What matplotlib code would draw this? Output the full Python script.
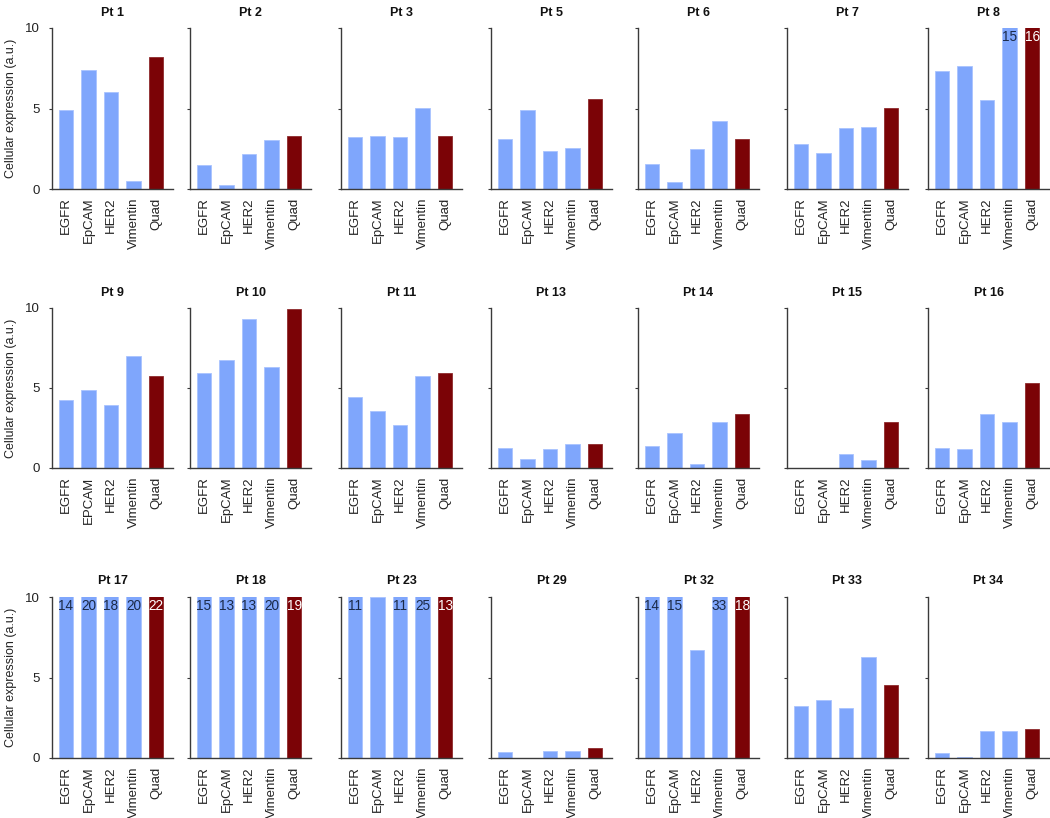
import matplotlib
matplotlib.use("Agg")
import matplotlib.pyplot as plt

plt.rcParams['font.family'] = ['Liberation Sans', 'DejaVu Sans']

patients = ["Pt 1", "Pt 2", "Pt 3", "Pt 5", "Pt 6", "Pt 7", "Pt 8",
            "Pt 9", "Pt 10", "Pt 11", "Pt 13", "Pt 14", "Pt 15", "Pt 16",
            "Pt 17", "Pt 18", "Pt 23", "Pt 29", "Pt 32", "Pt 33", "Pt 34"]

markers_default = ["EGFR", "EpCAM", "HER2", "Vimentin", "Quad"]
markers_pt9 = ["EGFR", "EPCAM", "HER2", "Vimentin", "Quad"]

# values per patient: EGFR, EpCAM, HER2, Vimentin, Quad
egfr     = [4.92, 1.49, 3.24, 3.09, 1.56, 2.82, 7.32,
            4.25, 5.93, 4.46, 1.24, 1.37, 0.0, 1.24,
            14, 15, 11, 0.40, 14, 3.22, 0.33]
epcam    = [7.37, 0.23, 3.30, 4.90, 0.41, 2.22, 7.66,
            4.88, 6.74, 3.59, 0.56, 2.18, 0.0, 1.18,
            20, 13, 10, 0.0, 15, 3.61, 0.04]
her2     = [6.04, 2.16, 3.24, 2.34, 2.49, 3.78, 5.52,
            3.92, 9.34, 2.66, 1.18, 0.25, 0.85, 3.40,
            18, 13, 11, 0.46, 6.70, 3.13, 1.66]
vimentin = [0.48, 3.03, 5.02, 2.55, 4.25, 3.84, 15,
            6.99, 6.33, 5.73, 1.51, 2.86, 0.50, 2.86,
            20, 20, 25, 0.46, 33, 6.29, 1.66]
quad     = [8.17, 3.30, 3.30, 5.58, 3.09, 5.04, 16,
            5.73, 9.95, 5.93, 1.51, 3.40, 2.86, 5.33,
            22, 19, 13, 0.60, 18, 4.54, 1.80]

ylim_max = 10
yticks = [0, 5, 10]
ylabel = "Cellular expression (a.u.)"

blue = "#7fa6fc"
red = "#7b0306"
label_blue = "#1b2a48"
spine_col = "#3a3a3a"

W, H = 1050, 818
fig = plt.figure(figsize=(W / 100, H / 100), dpi=100)

col_left = [52, 190, 341, 491, 638, 787, 928]
ax_w = 121
rows = [(28, 189), (308, 468), (597, 758)]

for i, name in enumerate(patients):
    r, c = divmod(i, 7)
    top, bot = rows[r]
    left = col_left[c]
    ax = fig.add_axes([left / W, 1 - bot / H, ax_w / W, (bot - top) / H])
    vals = [egfr[i], epcam[i], her2[i], vimentin[i], quad[i]]
    cats = markers_pt9 if name == "Pt 9" else markers_default
    colors = [blue] * 4 + [red]
    edges = ["#a9c3ff"] * 4 + ["#8e2a2c"]
    xs = list(range(len(vals)))
    ax.bar(xs, vals, width=0.65, color=colors, edgecolor=edges, linewidth=0.6)
    ax.set_xlim(-0.62, 4.75)
    ax.set_ylim(0, ylim_max)
    for x, v, col in zip(xs, vals, colors):
        if v > ylim_max:
            ax.annotate(f"{v:g}", xy=(x, ylim_max), xytext=(0, -1.5),
                        textcoords="offset points", ha="center", va="top",
                        fontsize=9.8, color="white" if col == red else label_blue)
    ax.set_xticks(xs)
    ax.set_xticklabels(cats, rotation=90, fontsize=9.5, color="#222222")
    ax.tick_params(axis="x", length=0, pad=6)
    ax.set_yticks(yticks)
    ax.tick_params(axis="y", length=2.5, width=0.8, color=spine_col,
                   labelsize=9.5, labelcolor="#222222", pad=6)
    if c == 0:
        ax.set_ylabel(ylabel, fontsize=9, color="#222222", labelpad=6)
    else:
        ax.set_yticklabels([])
    for s in ["top", "right"]:
        ax.spines[s].set_visible(False)
    for s in ["left", "bottom"]:
        ax.spines[s].set_color(spine_col)
        ax.spines[s].set_linewidth(1.0)
    ax.set_title(name, fontsize=9, fontweight="bold", pad=9, color="#111111")

fig.savefig("out.png", dpi=100)
